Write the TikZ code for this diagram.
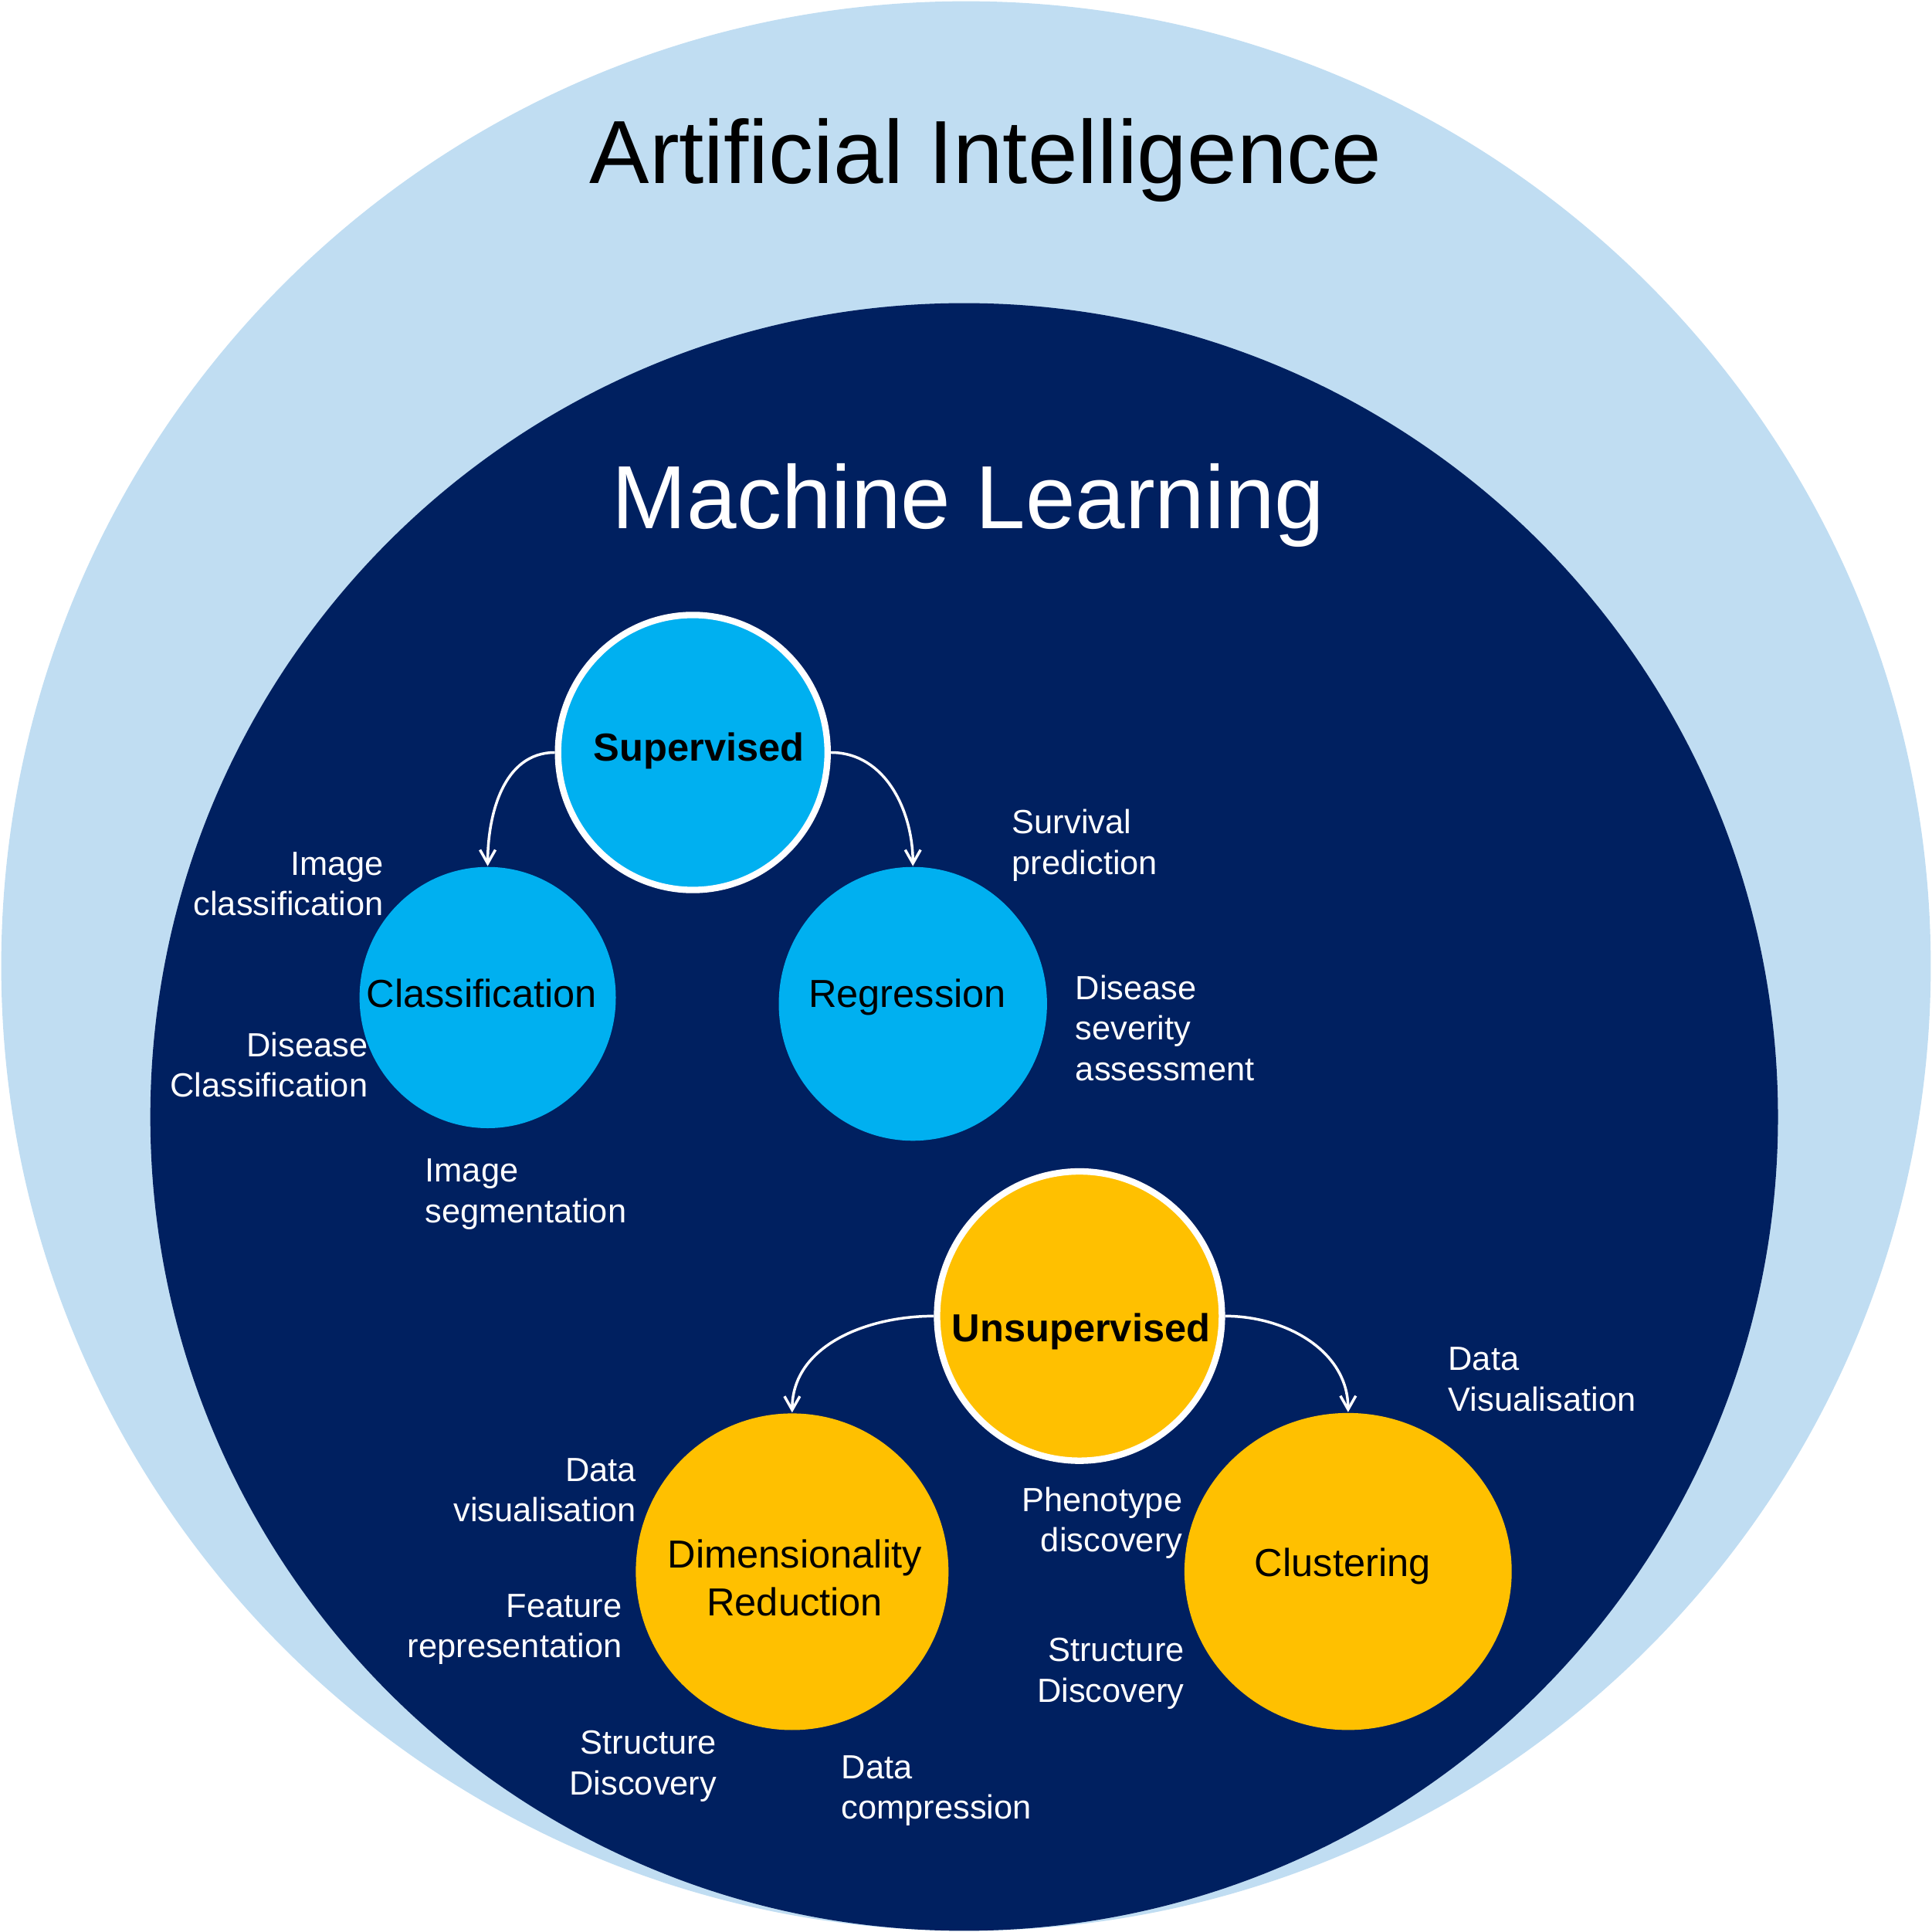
\documentclass[tikz,border=0pt]{standalone}
\usepackage{fontspec}
\setmainfont{Liberation Sans}
\usetikzlibrary{arrows.meta,shapes.geometric}
\definecolor{aiblue}{HTML}{C0DDF2}
\definecolor{mlnavy}{HTML}{002060}
\definecolor{supcyan}{HTML}{00B0F0}
\definecolor{unsgold}{HTML}{FFC000}
\begin{document}
\begin{tikzpicture}[x=0.1mm,y=0.1mm,
  blob/.style={ellipse, inner sep=0pt, draw=none},
  parent/.style={ellipse, inner sep=0pt, draw=white, line width=1.48pt},
  ntext/.style={inner sep=0pt, anchor=base, text=black, font=\fontsize{9.02pt}{10.95pt}\selectfont},
  ntextb/.style={inner sep=0pt, anchor=base, text=black, font=\fontsize{9.02pt}{10.95pt}\selectfont\bfseries},
  lbl/.style={inner sep=0pt, text=white, font=\fontsize{7.74pt}{9.36pt}\selectfont},
  bigtitle/.style={inner sep=0pt, anchor=base, font=\fontsize{20.7pt}{24pt}\selectfont},
  arr/.style={draw=white, line width=0.62pt, -{Straight Barb[length=1.1mm,width=1.25mm]}}
]
\useasboundingbox (0,0) rectangle (1568,-1568);
% big circles
\node[circle, fill=aiblue, minimum size=156.6mm, inner sep=0pt] (ai) at (784,-784) {};
\node[circle, fill=mlnavy, minimum size=132.1mm, inner sep=0pt] (ml) at (782.5,-906.5) {};
\node[bigtitle, text=black] (ait) at (800,-148.7) {Artificial Intelligence};
\node[bigtitle, text=white] (mlt) at (786,-429) {Machine Learning};
% circles
\node[parent, fill=supcyan, minimum width=21.88mm, minimum height=22.32mm] (sup) at (562.3,-610.7) {};
\node[blob, fill=supcyan, minimum width=20.8mm, minimum height=21.2mm] (cls) at (395.8,-809.6) {};
\node[blob, fill=supcyan, minimum width=21.77mm, minimum height=22.22mm] (reg) at (740.9,-814.7) {};
\node[parent, fill=unsgold, minimum width=23.12mm, minimum height=23.48mm] (uns) at (876.1,-1068.1) {};
\node[blob, fill=unsgold, minimum width=25.38mm, minimum height=25.7mm] (dr) at (642.9,-1275.6) {};
\node[blob, fill=unsgold, minimum width=26.56mm, minimum height=25.73mm] (clu) at (1094.1,-1275.4) {};
% arrows
\draw[arr] (sup.west) to[out=180,in=90] (cls.north);
\draw[arr] (sup.east) to[out=0,in=90] (reg.north);
\draw[arr] (uns.west) to[out=180,in=90] (dr.north);
\draw[arr] (uns.east) to[out=0,in=90] (clu.north);
% node texts
\node[ntextb] (supt) at (567.2,-617.3) {Supervised};
\node[ntext] (clst) at (390.9,-817.8) {Classification};
\node[ntext] (regt) at (736.4,-817.8) {Regression};
\node[ntextb] (unst) at (877.4,-1088.8) {Unsupervised};
\node[ntext] (drt) at (645,-1272.6) {\begin{tabular}[t]{@{}c@{}}Dimensionality\\Reduction\end{tabular}};
\node[ntext] (clut) at (1089.7,-1279.7) {Clustering};
% labels
\node[lbl, anchor=base east] (l1) at (312,-710.3) {\begin{tabular}[t]{@{}r@{}}Image\\classification\end{tabular}};
\node[lbl, anchor=base east] (l2) at (299.2,-857.5) {\begin{tabular}[t]{@{}r@{}}Disease\\Classification\end{tabular}};
\node[lbl, anchor=base west] (l3) at (344.4,-959.3) {\begin{tabular}[t]{@{}l@{}}Image\\segmentation\end{tabular}};
\node[lbl, anchor=base west] (l4) at (820.8,-676.8) {\begin{tabular}[t]{@{}l@{}}Survival\\prediction\end{tabular}};
\node[lbl, anchor=base west] (l5) at (872.2,-811) {\begin{tabular}[t]{@{}l@{}}Disease\\severity\\assessment\end{tabular}};
\node[lbl, anchor=base west] (l6) at (1174.7,-1112.2) {\begin{tabular}[t]{@{}l@{}}Data\\Visualisation\end{tabular}};
\node[lbl, anchor=base east] (l7) at (517.1,-1202.2) {\begin{tabular}[t]{@{}r@{}}Data\\visualisation\end{tabular}};
\node[lbl, anchor=base east] (l8) at (505.4,-1312.3) {\begin{tabular}[t]{@{}r@{}}Feature\\representation\end{tabular}};
\node[lbl, anchor=base east] (l9) at (582.3,-1423.6) {\begin{tabular}[t]{@{}r@{}}Structure\\Discovery\end{tabular}};
\node[lbl, anchor=base west] (l10) at (682.3,-1443.4) {\begin{tabular}[t]{@{}l@{}}Data\\compression\end{tabular}};
\node[lbl, anchor=base east] (l11) at (960.3,-1226.6) {\begin{tabular}[t]{@{}r@{}}Phenotype\\discovery\end{tabular}};
\node[lbl, anchor=base east] (l12) at (961.8,-1348.5) {\begin{tabular}[t]{@{}r@{}}Structure\\Discovery\end{tabular}};
\end{tikzpicture}
\end{document}
